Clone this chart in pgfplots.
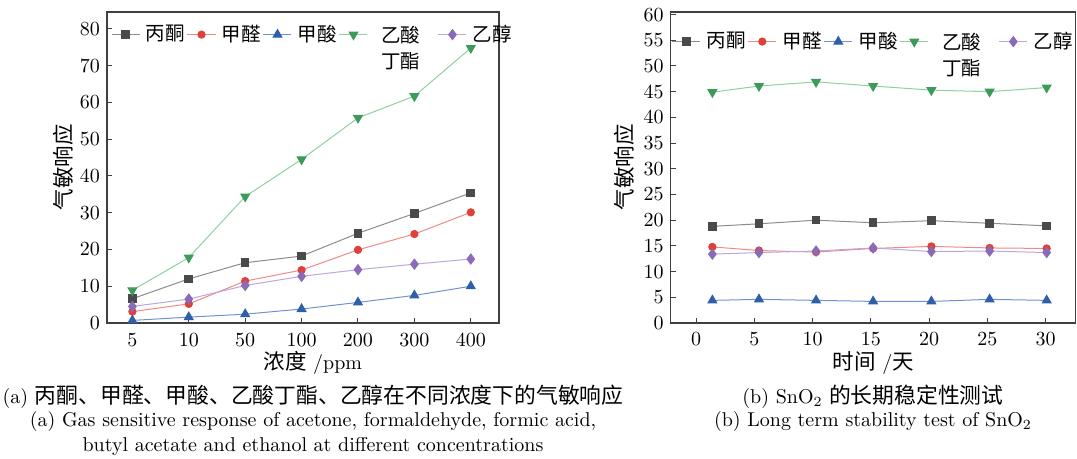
\documentclass[border=0pt]{standalone}
\usepackage{fontspec}
\usepackage{amsmath}
\usepackage{pgfplots}
\pgfplotsset{compat=1.18}
\newfontfamily\cjk{Noto Sans CJK SC}
\definecolor{mA}{HTML}{4A4A4A}\definecolor{lA}{HTML}{8C8C8C}
\definecolor{mB}{HTML}{E0403A}\definecolor{lB}{HTML}{F08A86}
\definecolor{mC}{HTML}{2E5FA8}\definecolor{lC}{HTML}{6F93D2}
\definecolor{mD}{HTML}{3C9A5A}\definecolor{lD}{HTML}{8FD0A2}
\definecolor{mE}{HTML}{8A6BB8}\definecolor{lE}{HTML}{BCA6DC}
\pgfplotsset{
  mystyle/.style={
    scale only axis,
    axis line style={black!75, line width=0.6pt},
    tick style={black!75, line width=0.5pt},
    tick pos=left, tick align=inside, major tick length=2.5pt,
    ymin=0,
    tick label style={font=\fontsize{10}{12}\selectfont},
    legend columns=5,
    legend style={draw=none, fill=none, at={(axis description cs:0,1)}, anchor=north west,
      inner sep=0pt, outer sep=0pt, nodes={inner sep=0pt},
      font=\cjk\fontsize{9.75}{13}\selectfont,
      /tikz/every odd column/.style={column sep=3pt},
      /tikz/every even column/.style={column sep=1pt}},
    legend image code/.code={\draw[mark repeat=2,mark phase=2,##1] plot coordinates {(0pt,0pt) (7pt,0pt) (14pt,0pt)};},
    every axis y label/.style={rotate=90, anchor=center, font=\cjk\fontsize{10.75}{12}\selectfont},
    every axis x label/.style={anchor=center, font=\fontsize{10}{12}\selectfont},
  },
  pA/.style={color=lA, line width=0.5pt, mark=square*, mark size=1.9pt, mark options={draw=mA, fill=mA, solid}},
  pB/.style={color=lB, line width=0.5pt, mark=*, mark size=1.8pt, mark options={draw=mB, fill=mB, solid}},
  pC/.style={color=lC, line width=0.5pt, mark=triangle*, mark size=2.5pt, mark options={draw=mC, fill=mC, solid}},
  pD/.style={color=lD, line width=0.5pt, mark=triangle*, mark size=2.5pt, mark options={draw=mD, fill=mD, solid, rotate=180}},
  pE/.style={color=lE, line width=0.5pt, mark=diamond*, mark size=2.5pt, mark options={draw=mE, fill=mE, solid}},
}
\newcommand{\lt}[1]{\makebox[19.5pt][l]{#1}}
\newcommand{\ltD}{\makebox[31pt][c]{\hspace{-4pt}\smash[b]{\begin{tabular}[t]{@{}c@{}}乙酸\\丁酯\end{tabular}}}}
\begin{document}
\begin{tikzpicture}
\useasboundingbox (0,0) rectangle (538.5pt,229.5pt);
\begin{axis}[mystyle,
  at={(53.5pt,68pt)}, anchor=south west, width=196pt, height=155.5pt,
  xmin=-0.45, xmax=6.5, ymax=84.6,
  xtick={0,...,6}, xticklabels={5,10,50,100,200,300,400},
  ytick={0,10,...,80},
  xticklabel style={yshift=-1.5pt},
  legend style={xshift=2pt, yshift=-6pt},
  xlabel={{\cjk\fontsize{10.75}{12}\selectfont 浓度} /ppm},
  xlabel style={at={(axis description cs:0.525,-0.129)}},
  ylabel={气敏响应},
  ylabel style={at={(axis description cs:-0.112,0.5)}},
]
\addplot[pA] coordinates {(0,6.6)(1,12.0)(2,16.4)(3,18.2)(4,24.4)(5,29.8)(6,35.4)};
\addlegendentry{\lt{丙酮}}
\addplot[pB] coordinates {(0,3.1)(1,5.2)(2,11.4)(3,14.4)(4,19.9)(5,24.2)(6,30.1)};
\addlegendentry{\lt{甲醛}}
\addplot[pC] coordinates {(0,0.7)(1,1.6)(2,2.4)(3,3.8)(4,5.6)(5,7.5)(6,10.0)};
\addlegendentry{\lt{甲酸}}
\addplot[pD] coordinates {(0,8.9)(1,17.8)(2,34.4)(3,44.5)(4,55.8)(5,61.7)(6,74.8)};
\addlegendentry{\ltD}
\addplot[pE] coordinates {(0,4.5)(1,6.5)(2,10.2)(3,12.7)(4,14.5)(5,16.0)(6,17.4)};
\addlegendentry{\lt{乙醇}}
\end{axis}
\begin{axis}[mystyle,
  at={(335.4pt,68pt)}, anchor=south west, width=202.5pt, height=155.5pt,
  xmin=-2.17, xmax=32.6, ymax=60.5,
  xtick={0,5,...,30},
  ytick={0,5,...,60},
  xticklabel style={yshift=-1.5pt},
  legend style={xshift=0.5pt, yshift=-9.5pt},
  xlabel={{\cjk\fontsize{10.75}{12}\selectfont 时间} /{\cjk\fontsize{10.75}{12}\selectfont 天}},
  xlabel style={at={(axis description cs:0.5,-0.129)}},
  ylabel={气敏响应},
  ylabel style={at={(axis description cs:-0.114,0.5)}},
]
\addplot[pA] coordinates {(1.4,18.8)(5.4,19.3)(10.3,20.0)(15.2,19.5)(20.2,19.9)(25.2,19.4)(30.1,18.9)};
\addlegendentry{\lt{丙酮}}
\addplot[pB] coordinates {(1.4,14.8)(5.4,14.1)(10.3,13.8)(15.2,14.5)(20.2,14.9)(25.2,14.6)(30.1,14.5)};
\addlegendentry{\lt{甲醛}}
\addplot[pC] coordinates {(1.4,4.4)(5.4,4.6)(10.3,4.4)(15.2,4.2)(20.2,4.2)(25.2,4.6)(30.1,4.4)};
\addlegendentry{\lt{甲酸}}
\addplot[pD] coordinates {(1.4,44.9)(5.4,46.1)(10.3,46.9)(15.2,46.1)(20.2,45.3)(25.2,45.0)(30.1,45.8)};
\addlegendentry{\ltD}
\addplot[pE] coordinates {(1.4,13.4)(5.4,13.7)(10.3,14.0)(15.2,14.6)(20.2,13.9)(25.2,14.0)(30.1,13.7)};
\addlegendentry{\lt{乙醇}}
\end{axis}
\begin{scope}[every node/.style={inner sep=0pt, font=\fontsize{10}{12}\selectfont}]
\node at (156.5pt,31pt) {(a) {\cjk\fontsize{10.9}{12}\selectfont 丙酮、甲醛、甲酸、乙酸丁酯、乙醇在不同浓度下的气敏响应}};
\node at (156.5pt,18.5pt) {(a) Gas sensitive response of acetone, formaldehyde, formic acid,};
\node at (156.5pt,6pt) {butyl acetate and ethanol at different concentrations};
\node at (436.5pt,31pt) {(b) SnO$_2$ {\cjk\fontsize{10.9}{12}\selectfont 的长期稳定性测试}};
\node at (436.5pt,18.5pt) {(b) Long term stability test of SnO$_2$};
\end{scope}
\end{tikzpicture}
\end{document}
